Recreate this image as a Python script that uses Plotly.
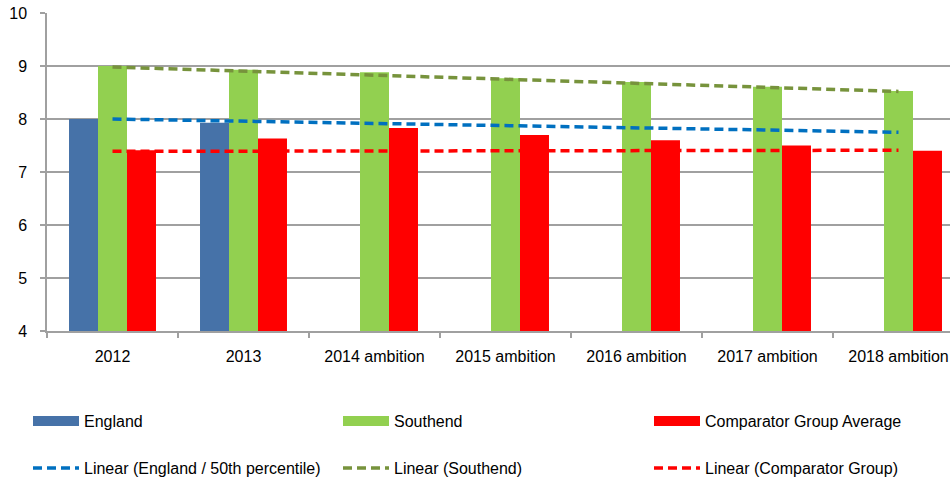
import plotly.graph_objects as go

categories = ["2012", "2013", "2014 ambition", "2015 ambition", "2016 ambition",
              "2017 ambition", "2018 ambition"]
england = [8.00, 7.93, None, None, None, None, None]
southend = [9.00, 8.93, 8.88, 8.77, 8.70, 8.61, 8.53]
comparator = [7.41, 7.63, 7.83, 7.70, 7.60, 7.50, 7.40]

# trend lines (start at first category, end at last)
trend_x = [categories[0], categories[-1]]
trend_england = [8.00, 7.75]
trend_southend = [8.98, 8.52]
trend_comparator = [7.39, 7.41]

bar_names = ["England", "Southend", "Comparator Group Average"]
trend_names = ["Linear (England / 50th percentile)", "Linear (Southend)",
               "Linear (Comparator Group)"]

FONT = "Liberation Sans, Arial, sans-serif"
W, H = 950, 481
L, T, B, R = 47, 13, 150, 0
plot_w = W - L - R
cat_px = 131.0

col_px = [28, 338, 649]
row_py = [421, 468]

fig = go.Figure()
legend_layouts = {}
k = 1
for name, vals, col, cx in zip(bar_names, [england, southend, comparator],
                               ["#4672A8", "#92D050", "#FF0000"], col_px):
    lname = "legend" if k == 1 else f"legend{k}"
    fig.add_trace(go.Bar(x=categories, y=vals, name=name, marker_color=col,
                         marker_line_width=0, showlegend=False))
    # legend swatch (wide filled rectangle like the original)
    fig.add_trace(go.Scatter(x=[None], y=[None], name=name, mode="lines",
                             line=dict(color=col, width=10), legend=lname,
                             hoverinfo="skip"))
    legend_layouts[lname] = (cx, row_py[0])
    k += 1

for name, vals, col, cx in zip(trend_names,
                               [trend_england, trend_southend, trend_comparator],
                               ["#0070C0", "#77933C", "#FF0000"], col_px):
    lname = f"legend{k}"
    fig.add_trace(go.Scatter(x=trend_x, y=vals, name=name, mode="lines",
                             line=dict(color=col, width=3.5, dash="9px,5px"),
                             legend=lname))
    legend_layouts[lname] = (cx, row_py[1])
    k += 1

legend_common = dict(orientation="h", xanchor="left", yanchor="middle",
                     xref="container", yref="container",
                     font=dict(family=FONT, size=16, color="#000000"),
                     itemwidth=46, bgcolor="rgba(0,0,0,0)", borderwidth=0)

fig.update_layout(
    width=W, height=H,
    margin=dict(l=L, r=R, t=T, b=B),
    paper_bgcolor="white", plot_bgcolor="white",
    barmode="group", bargap=0.336, bargroupgap=0,
    font=dict(family=FONT, size=16, color="#000000"),
    xaxis=dict(type="category", range=[-0.5, -0.5 + plot_w / cat_px],
               showgrid=False, showline=True, linecolor="#A0A0A0", linewidth=1.5,
               ticks="outside", tickson="boundaries", ticklen=5,
               tickcolor="#A0A0A0", tickwidth=1.5,
               tickfont=dict(family=FONT, size=16, color="#000000"),
               ticklabelstandoff=10),
    yaxis=dict(range=[4, 10], dtick=1, showgrid=True, gridcolor="#A0A0A0",
               gridwidth=1.5, showline=True, linecolor="#A0A0A0", linewidth=1.5,
               ticks="outside", ticklen=5, tickcolor="#A0A0A0", tickwidth=1.5,
               tickfont=dict(family=FONT, size=16, color="#000000"),
               ticklabelstandoff=10, zeroline=False),
    showlegend=True,
)
fig.update_layout(**{ln: dict(x=cx / W, y=1 - cy / H, **legend_common)
                     for ln, (cx, cy) in legend_layouts.items()})

fig.write_html("out.html")
